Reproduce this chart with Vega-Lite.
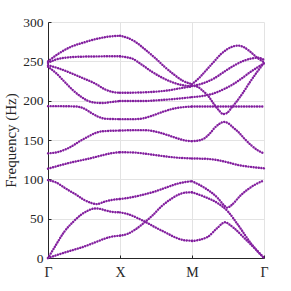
{
  "$schema": "https://vega.github.io/schema/vega-lite/v6.json",
  "width": 216,
  "height": 236,
  "autosize": "none",
  "padding": {"left": 48, "top": 22, "right": 27, "bottom": 33},
  "background": "white",
  "config": {"view": {"stroke": null}},
  "data": {"values": [
    {"b":"1T1","k":0,"f":250},{"b":"1T1","k":0.15,"f":260},{"b":"1T1","k":0.32,"f":268.5},{"b":"1T1","k":0.5,"f":274},{"b":"1T1","k":0.65,"f":278},{"b":"1T1","k":0.85,"f":281.5},{"b":"1T1","k":1,"f":282.5},
    {"b":"1T2","k":0,"f":248},{"b":"1T2","k":0.1,"f":252},{"b":"1T2","k":0.23,"f":254.5},{"b":"1T2","k":0.5,"f":256},{"b":"1T2","k":1,"f":256.5},
    {"b":"1T3","k":0,"f":245},{"b":"1T3","k":0.15,"f":241},{"b":"1T3","k":0.32,"f":235},{"b":"1T3","k":0.5,"f":228},{"b":"1T3","k":0.65,"f":222},{"b":"1T3","k":0.8,"f":214},{"b":"1T3","k":0.9,"f":211},{"b":"1T3","k":1,"f":210},
    {"b":"1T4","k":0,"f":243},{"b":"1T4","k":0.1,"f":236},{"b":"1T4","k":0.23,"f":224},{"b":"1T4","k":0.35,"f":213},{"b":"1T4","k":0.46,"f":205},{"b":"1T4","k":0.55,"f":200},{"b":"1T4","k":0.65,"f":197.5},{"b":"1T4","k":0.75,"f":197},{"b":"1T4","k":0.9,"f":198.5},{"b":"1T4","k":1,"f":199.5},
    {"b":"1B5","k":0,"f":193},{"b":"1B5","k":0.2,"f":193},{"b":"1B5","k":0.4,"f":192.5},{"b":"1B5","k":0.5,"f":190},{"b":"1B5","k":0.6,"f":184.5},{"b":"1B5","k":0.7,"f":179.5},{"b":"1B5","k":0.8,"f":177},{"b":"1B5","k":1,"f":176.5},
    {"b":"1B6","k":0,"f":133},{"b":"1B6","k":0.15,"f":135},{"b":"1B6","k":0.32,"f":141.5},{"b":"1B6","k":0.45,"f":149},{"b":"1B6","k":0.55,"f":154},{"b":"1B6","k":0.65,"f":158.5},{"b":"1B6","k":0.75,"f":161},{"b":"1B6","k":1,"f":162},
    {"b":"1B7","k":0,"f":113.5},{"b":"1B7","k":0.3,"f":121},{"b":"1B7","k":0.6,"f":127},{"b":"1B7","k":0.75,"f":130.5},{"b":"1B7","k":0.9,"f":133.5},{"b":"1B7","k":1,"f":134.5},
    {"b":"1B8","k":0,"f":99},{"b":"1B8","k":0.1,"f":96.5},{"b":"1B8","k":0.27,"f":87},{"b":"1B8","k":0.4,"f":80},{"b":"1B8","k":0.5,"f":74},{"b":"1B8","k":0.6,"f":70},{"b":"1B8","k":0.68,"f":68.5},{"b":"1B8","k":0.78,"f":71.5},{"b":"1B8","k":0.9,"f":74},{"b":"1B8","k":1,"f":75},
    {"b":"1B9","k":0,"f":0},{"b":"1B9","k":0.1,"f":15},{"b":"1B9","k":0.227,"f":33.5},{"b":"1B9","k":0.35,"f":46},{"b":"1B9","k":0.46,"f":55},{"b":"1B9","k":0.55,"f":60},{"b":"1B9","k":0.65,"f":63},{"b":"1B9","k":0.72,"f":62.5},{"b":"1B9","k":0.8,"f":60.5},{"b":"1B9","k":0.9,"f":58.5},{"b":"1B9","k":1,"f":58},
    {"b":"1B10","k":0,"f":0},{"b":"1B10","k":0.25,"f":7.5},{"b":"1B10","k":0.5,"f":14.5},{"b":"1B10","k":0.7,"f":21.5},{"b":"1B10","k":0.8,"f":25},{"b":"1B10","k":0.88,"f":27},{"b":"1B10","k":1,"f":28.5},
    {"b":"2T1","k":1,"f":282.5},{"b":"2T1","k":1.1,"f":280},{"b":"2T1","k":1.21,"f":275},{"b":"2T1","k":1.35,"f":265},{"b":"2T1","k":1.49,"f":254},{"b":"2T1","k":1.62,"f":243},{"b":"2T1","k":1.76,"f":232.5},{"b":"2T1","k":1.88,"f":225},{"b":"2T1","k":2,"f":221},
    {"b":"2T2","k":1,"f":256.5},{"b":"2T2","k":1.1,"f":255},{"b":"2T2","k":1.17,"f":253.5},{"b":"2T2","k":1.3,"f":246},{"b":"2T2","k":1.44,"f":237},{"b":"2T2","k":1.57,"f":230},{"b":"2T2","k":1.71,"f":224},{"b":"2T2","k":1.85,"f":220},{"b":"2T2","k":2,"f":218.5},
    {"b":"2T3","k":1,"f":210},{"b":"2T3","k":1.3,"f":210.5},{"b":"2T3","k":1.5,"f":211.5},{"b":"2T3","k":1.7,"f":213.5},{"b":"2T3","k":1.85,"f":216},{"b":"2T3","k":2,"f":218},
    {"b":"2T4","k":1,"f":199.5},{"b":"2T4","k":1.3,"f":199.5},{"b":"2T4","k":1.6,"f":201},{"b":"2T4","k":1.8,"f":202.5},{"b":"2T4","k":2,"f":204.5},
    {"b":"2B5","k":1,"f":176.5},{"b":"2B5","k":1.2,"f":176.5},{"b":"2B5","k":1.32,"f":177.5},{"b":"2B5","k":1.45,"f":181},{"b":"2B5","k":1.6,"f":186},{"b":"2B5","k":1.75,"f":190},{"b":"2B5","k":1.9,"f":192},{"b":"2B5","k":2,"f":192.5},
    {"b":"2B6","k":1,"f":162},{"b":"2B6","k":1.2,"f":162.5},{"b":"2B6","k":1.35,"f":162.5},{"b":"2B6","k":1.5,"f":160.5},{"b":"2B6","k":1.67,"f":156},{"b":"2B6","k":1.8,"f":152},{"b":"2B6","k":1.9,"f":149.5},{"b":"2B6","k":2,"f":148.5},
    {"b":"2B7","k":1,"f":134.5},{"b":"2B7","k":1.2,"f":134},{"b":"2B7","k":1.4,"f":132},{"b":"2B7","k":1.6,"f":129.5},{"b":"2B7","k":1.8,"f":127.5},{"b":"2B7","k":2,"f":126.5},
    {"b":"2B8","k":1,"f":75},{"b":"2B8","k":1.15,"f":77},{"b":"2B8","k":1.3,"f":80},{"b":"2B8","k":1.5,"f":85},{"b":"2B8","k":1.67,"f":90.5},{"b":"2B8","k":1.8,"f":94.5},{"b":"2B8","k":1.94,"f":97},{"b":"2B8","k":2,"f":97.5},
    {"b":"2B9","k":1,"f":58},{"b":"2B9","k":1.12,"f":55.5},{"b":"2B9","k":1.25,"f":50.5},{"b":"2B9","k":1.35,"f":46},{"b":"2B9","k":1.5,"f":38.5},{"b":"2B9","k":1.62,"f":33},{"b":"2B9","k":1.8,"f":25},{"b":"2B9","k":1.9,"f":22.5},{"b":"2B9","k":2,"f":22},
    {"b":"2B10","k":1,"f":28.5},{"b":"2B10","k":1.1,"f":30.5},{"b":"2B10","k":1.2,"f":35.5},{"b":"2B10","k":1.35,"f":46},{"b":"2B10","k":1.45,"f":54},{"b":"2B10","k":1.58,"f":66},{"b":"2B10","k":1.7,"f":74.5},{"b":"2B10","k":1.8,"f":80},{"b":"2B10","k":1.9,"f":83},{"b":"2B10","k":2,"f":83.5},
    {"b":"3P1","k":2,"f":221},{"b":"3P1","k":2.1,"f":229},{"b":"3P1","k":2.22,"f":241},{"b":"3P1","k":2.3,"f":249},{"b":"3P1","k":2.4,"f":259},{"b":"3P1","k":2.5,"f":266},{"b":"3P1","k":2.64,"f":270},{"b":"3P1","k":2.72,"f":268},{"b":"3P1","k":2.8,"f":263},{"b":"3P1","k":2.9,"f":255},{"b":"3P1","k":3,"f":249},
    {"b":"3P2","k":2,"f":218.5},{"b":"3P2","k":2.15,"f":222},{"b":"3P2","k":2.31,"f":228.5},{"b":"3P2","k":2.45,"f":237},{"b":"3P2","k":2.59,"f":245},{"b":"3P2","k":2.7,"f":250},{"b":"3P2","k":2.82,"f":253.5},{"b":"3P2","k":2.92,"f":254.5},{"b":"3P2","k":3,"f":252},
    {"b":"3P3","k":2,"f":204.5},{"b":"3P3","k":2.15,"f":206},{"b":"3P3","k":2.31,"f":209.5},{"b":"3P3","k":2.45,"f":215},{"b":"3P3","k":2.59,"f":222},{"b":"3P3","k":2.7,"f":229},{"b":"3P3","k":2.82,"f":237},{"b":"3P3","k":2.92,"f":243},{"b":"3P3","k":3,"f":247.5},
    {"b":"3P4","k":2,"f":219},{"b":"3P4","k":2.08,"f":217.5},{"b":"3P4","k":2.15,"f":212.5},{"b":"3P4","k":2.22,"f":206.5},{"b":"3P4","k":2.31,"f":195},{"b":"3P4","k":2.38,"f":187},{"b":"3P4","k":2.43,"f":183},{"b":"3P4","k":2.48,"f":184},{"b":"3P4","k":2.55,"f":191},{"b":"3P4","k":2.62,"f":199},{"b":"3P4","k":2.7,"f":209},{"b":"3P4","k":2.8,"f":223},{"b":"3P4","k":2.9,"f":236},{"b":"3P4","k":3,"f":248},
    {"b":"3P5","k":2,"f":192.5},{"b":"3P5","k":2.5,"f":192.5},{"b":"3P5","k":3,"f":192.5},
    {"b":"3P6","k":2,"f":148.5},{"b":"3P6","k":2.1,"f":149.5},{"b":"3P6","k":2.17,"f":152},{"b":"3P6","k":2.25,"f":158.5},{"b":"3P6","k":2.31,"f":165},{"b":"3P6","k":2.38,"f":170.5},{"b":"3P6","k":2.44,"f":173},{"b":"3P6","k":2.5,"f":171.5},{"b":"3P6","k":2.57,"f":166},{"b":"3P6","k":2.64,"f":160.5},{"b":"3P6","k":2.73,"f":151.5},{"b":"3P6","k":2.82,"f":143.5},{"b":"3P6","k":2.92,"f":136.5},{"b":"3P6","k":3,"f":133},
    {"b":"3P7","k":2,"f":126.5},{"b":"3P7","k":2.2,"f":126},{"b":"3P7","k":2.35,"f":124.5},{"b":"3P7","k":2.5,"f":121.5},{"b":"3P7","k":2.65,"f":118},{"b":"3P7","k":2.8,"f":116},{"b":"3P7","k":3,"f":114},
    {"b":"3P8","k":2,"f":97.5},{"b":"3P8","k":2.17,"f":89.5},{"b":"3P8","k":2.36,"f":76},{"b":"3P8","k":2.44,"f":67.5},{"b":"3P8","k":2.49,"f":64},{"b":"3P8","k":2.545,"f":67},{"b":"3P8","k":2.68,"f":80},{"b":"3P8","k":2.87,"f":93},{"b":"3P8","k":3,"f":98.5},
    {"b":"3P9","k":2,"f":83.5},{"b":"3P9","k":2.17,"f":78},{"b":"3P9","k":2.36,"f":69.5},{"b":"3P9","k":2.5,"f":59},{"b":"3P9","k":2.64,"f":42},{"b":"3P9","k":2.82,"f":18.5},{"b":"3P9","k":3,"f":0},
    {"b":"3P10","k":2,"f":21.5},{"b":"3P10","k":2.22,"f":27},{"b":"3P10","k":2.35,"f":38},{"b":"3P10","k":2.46,"f":45.5},{"b":"3P10","k":2.52,"f":42.5},{"b":"3P10","k":2.59,"f":37.5},{"b":"3P10","k":2.73,"f":25},{"b":"3P10","k":2.87,"f":12.3},{"b":"3P10","k":3,"f":0}
  ]},
  "mark": {"type": "line", "interpolate": "monotone", "color": "#821E9E", "strokeWidth": 2.4, "strokeCap": "round", "strokeDash": [0.1, 2.5], "clip": false},
  "encoding": {
    "detail": {"field": "b", "type": "nominal"},
    "x": {"field": "k", "type": "quantitative", "scale": {"domain": [0, 3], "nice": false, "zero": false},
      "axis": {"values": [0, 1, 2, 3], "labelExpr": "['Γ','X','M','Γ'][datum.value]", "title": null,
        "grid": true, "gridColor": "#e3e3e3", "domainColor": "#262626", "tickColor": "#262626", "tickSize": -3,
        "labelFont": "Times New Roman, Liberation Serif, serif", "labelFontSize": 14, "labelColor": "#262626", "labelPadding": 10, "labelFlush": false}},
    "y": {"field": "f", "type": "quantitative", "scale": {"domain": [0, 300], "nice": false},
      "axis": {"values": [0, 50, 100, 150, 200, 250, 300], "title": "Frequency (Hz)",
        "grid": true, "gridColor": "#e3e3e3", "domainColor": "#262626", "tickColor": "#262626", "tickSize": -3,
        "labelFont": "Times New Roman, Liberation Serif, serif", "labelFontSize": 13.5, "labelColor": "#262626", "labelPadding": 8,
        "titleFont": "Times New Roman, Liberation Serif, serif", "titleFontSize": 15, "titleFontWeight": "normal", "titleColor": "#262626",
        "titleX": -30, "titleY": 118}}
  }
}
